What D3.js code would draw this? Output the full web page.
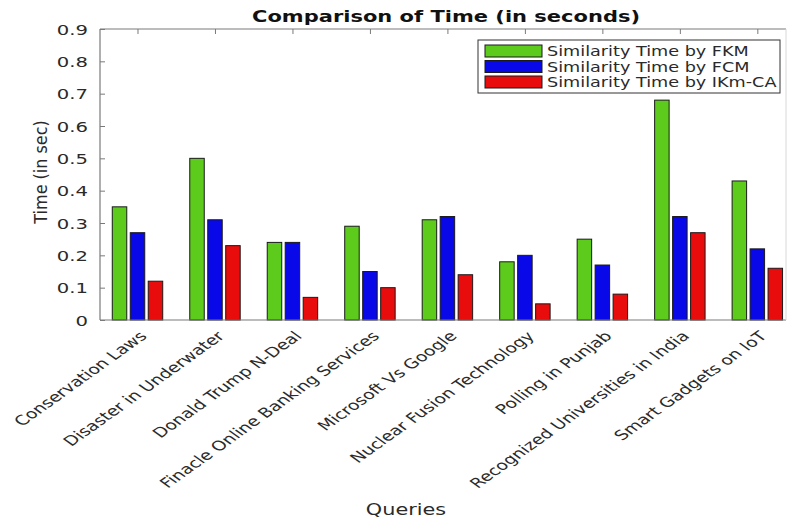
<!DOCTYPE html>
<html>
<head>
<meta charset="utf-8">
<script src="https://cdn.jsdelivr.net/npm/d3@7"></script>
<style>
  html, body { margin: 0; padding: 0; background: #fff; }
  svg { display: block; font-family: "DejaVu Sans", Verdana, sans-serif; }
</style>
</head>
<body>
<svg id="chart" width="788" height="520"></svg>
<script>
// Query categories and timing results (seconds) for the three clustering methods
const queries = [
  "Conservation Laws",
  "Disaster in Underwater",
  "Donald Trump N-Deal",
  "Finacle Online Banking Services",
  "Microsoft Vs Google",
  "Nuclear Fusion Technology",
  "Polling in Punjab",
  "Recognized Universities in India",
  "Smart Gadgets on IoT"
];
const fkmTimes  = [0.35, 0.50, 0.24, 0.29, 0.31, 0.18, 0.25, 0.68, 0.43];
const fcmTimes  = [0.27, 0.31, 0.24, 0.15, 0.32, 0.20, 0.17, 0.32, 0.22];
const ikmTimes  = [0.12, 0.23, 0.07, 0.10, 0.14, 0.05, 0.08, 0.27, 0.16];
const seriesNames = ["Similarity Time by FKM", "Similarity Time by FCM", "Similarity Time by IKm-CA"];
const yTicks = [0, 0.1, 0.2, 0.3, 0.4, 0.5, 0.6, 0.7, 0.8, 0.9];

const colors = ["#5dcb1c", "#0808e8", "#e80c0c"];
const series = [fkmTimes, fcmTimes, ikmTimes];

// the figure is drawn with horizontally widened lettering
const SX = 1.4;

const svg = d3.select("#chart");
const plotL = 100, plotR = 786, plotT = 29, plotB = 320;

// category index -> x position (slightly asymmetric limits, as drawn)
const x = d3.scaleLinear().domain([0.516, 9.37]).range([plotL, plotR]);
const y = d3.scaleLinear().domain([0, 0.9]).range([plotB, plotT]);

const groupOffset = 0.232;   // spacing between bars in a group (category units)
const barW = x(0.187) - x(0);

// place a text at (px, py) and widen it horizontally around that point
function widen(sel, px, py, sx, extra = "") {
  sel.attr("x", 0).attr("y", 0)
    .attr("transform", `translate(${px},${py}) scale(${sx},1) ${extra}`);
  return sel;
}

// bars
series.forEach((vals, s) => {
  svg.append("g")
    .selectAll("rect")
    .data(vals)
    .join("rect")
    .attr("x", (d, i) => x(i + 1 + (s - 1) * groupOffset) - barW / 2)
    .attr("y", d => y(d))
    .attr("width", barW)
    .attr("height", d => y(0) - y(d))
    .attr("fill", colors[s])
    .attr("stroke", "#1a1a1a")
    .attr("stroke-width", 1);
});

// axis frame
const axisColor = "#7a7a7a";
svg.append("line").attr("x1", plotL).attr("x2", plotL).attr("y1", plotT).attr("y2", plotB)
  .attr("stroke", axisColor).attr("stroke-width", 1.2);
svg.append("line").attr("x1", plotL).attr("x2", plotR).attr("y1", plotB).attr("y2", plotB)
  .attr("stroke", axisColor).attr("stroke-width", 1.2);
svg.append("line").attr("x1", plotL).attr("x2", plotR).attr("y1", plotT).attr("y2", plotT)
  .attr("stroke", axisColor).attr("stroke-width", 1.2);
svg.append("line").attr("x1", plotR).attr("x2", plotR).attr("y1", plotT).attr("y2", plotB)
  .attr("stroke", "#d8d8d8").attr("stroke-width", 1);

// y axis (ticks pointing inward)
const yAxis = d3.axisLeft(y).tickValues(yTicks).tickSize(-5).tickPadding(0)
  .tickFormat(d => d === 0 ? "0" : d3.format(".1f")(d));
const gy = svg.append("g").attr("transform", `translate(${plotL},0)`).call(yAxis);
gy.select(".domain").remove();
gy.selectAll(".tick line").attr("stroke", axisColor);
gy.selectAll(".tick text")
  .attr("fill", "#2a2a2a")
  .attr("text-anchor", "end")
  .attr("dy", "0.36em")
  .style("font-size", "14px")
  .style("font-family", "DejaVu Sans, sans-serif")
  .each(function () { widen(d3.select(this), -12, 0, SX); });

// top ticks at category positions
const xTicks = d3.range(1, queries.length + 1);
const gt = svg.append("g").attr("transform", `translate(0,${plotT})`)
  .call(d3.axisTop(x).tickValues(xTicks).tickSize(-5).tickFormat(""));
gt.select(".domain").remove();
gt.selectAll(".tick line").attr("stroke", axisColor);

// bottom category labels, slanted
const gx = svg.append("g").attr("transform", `translate(0,${plotB})`)
  .call(d3.axisBottom(x).tickValues(xTicks).tickSize(0).tickFormat(i => queries[i - 1]));
gx.select(".domain").remove();
gx.selectAll(".tick text")
  .attr("text-anchor", "end")
  .attr("fill", "#2a2a2a")
  .attr("dy", null)
  .style("font-size", "13.5px")
  .style("font-family", "DejaVu Sans, sans-serif")
  .each(function () { widen(d3.select(this), 10, 17, SX, "rotate(-45)"); });

// title
widen(svg.append("text")
  .attr("text-anchor", "middle")
  .attr("font-weight", "bold")
  .attr("font-size", "15px")
  .attr("fill", "#111")
  .text("Comparison of Time (in seconds)"), 446, 22, SX);

// axis titles
widen(svg.append("text")
  .attr("text-anchor", "middle")
  .attr("font-size", "16px")
  .attr("fill", "#2a2a2a")
  .text("Time (in sec)"), 47, 172, 1.15, "rotate(-90)");

widen(svg.append("text")
  .attr("text-anchor", "middle")
  .attr("font-size", "16px")
  .attr("fill", "#2a2a2a")
  .text("Queries"), 406, 515, 1.3);

// legend
const lg = svg.append("g");
lg.append("rect").attr("x", 478).attr("y", 40).attr("width", 302).attr("height", 53)
  .attr("fill", "#fff").attr("stroke", "#333").attr("stroke-width", 1);
seriesNames.forEach((name, s) => {
  const ry = 45 + s * 15.5;
  lg.append("rect").attr("x", 485).attr("y", ry).attr("width", 57).attr("height", 12)
    .attr("fill", colors[s]).attr("stroke", "#1a1a1a").attr("stroke-width", 1);
  widen(lg.append("text")
    .attr("font-size", "14px").attr("fill", "#2a2a2a").text(name), 547, ry + 11, 1.26);
});
</script>
</body>
</html>
